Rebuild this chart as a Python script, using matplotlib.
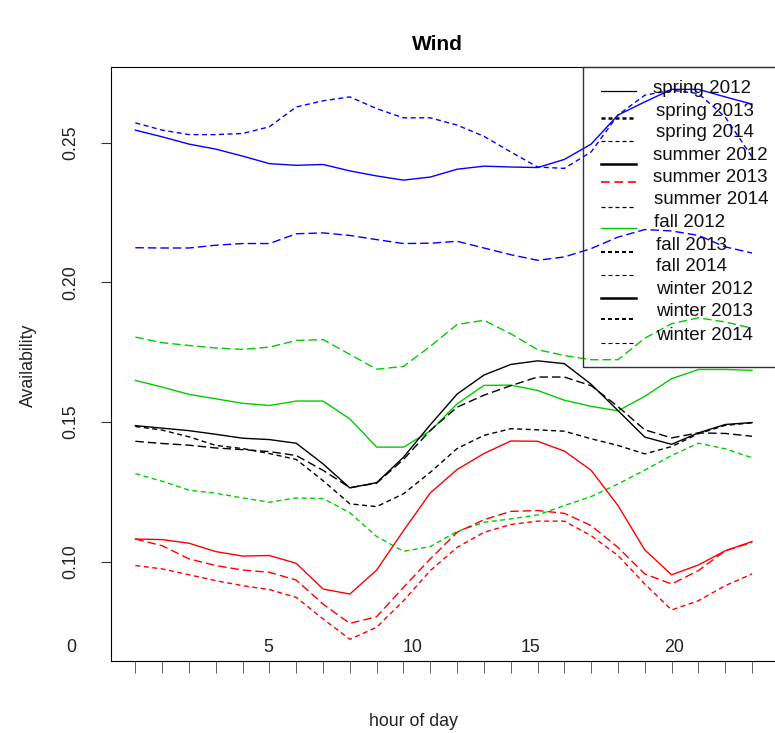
import matplotlib
matplotlib.use("Agg")
import matplotlib.pyplot as plt
from matplotlib.lines import Line2D
from matplotlib.patches import Rectangle
import matplotlib.transforms as mtrans

plt.rcParams['font.family'] = ['Liberation Sans', 'DejaVu Sans']

# ---------------- data ----------------
hours = list(range(24))

spring_2012 = [0.1487, 0.1478, 0.1469, 0.1456, 0.1442, 0.1437, 0.1424, 0.1350, 0.1264, 0.1283, 0.1374, 0.1490,
               0.1600, 0.1668, 0.1706, 0.1719, 0.1709, 0.1635, 0.1541, 0.1446, 0.1420, 0.1461, 0.1491, 0.1498]
spring_2013 = [0.1431, 0.1423, 0.1417, 0.1407, 0.1401, 0.1394, 0.1380, 0.1327, 0.1265, 0.1281, 0.1366, 0.1470,
               0.1553, 0.1596, 0.1630, 0.1661, 0.1661, 0.1630, 0.1555, 0.1472, 0.1443, 0.1461, 0.1459, 0.1449]
spring_2014 = [0.1484, 0.1471, 0.1447, 0.1416, 0.1405, 0.1387, 0.1366, 0.1290, 0.1207, 0.1197, 0.1243, 0.1320,
               0.1405, 0.1452, 0.1476, 0.1472, 0.1467, 0.1440, 0.1416, 0.1386, 0.1412, 0.1458, 0.1488, 0.1497]

summer_2012 = [0.1081, 0.1079, 0.1066, 0.1036, 0.1020, 0.1022, 0.0994, 0.0902, 0.0884, 0.0970, 0.1111, 0.1246,
               0.1330, 0.1387, 0.1432, 0.1431, 0.1396, 0.1327, 0.1201, 0.1042, 0.0953, 0.0988, 0.1039, 0.1072]
summer_2013 = [0.1081, 0.1057, 0.1010, 0.0986, 0.0970, 0.0962, 0.0934, 0.0848, 0.0779, 0.0803, 0.0908, 0.1010,
               0.1105, 0.1150, 0.1180, 0.1183, 0.1173, 0.1129, 0.1051, 0.0956, 0.0920, 0.0968, 0.1039, 0.1069]
summer_2014 = [0.0986, 0.0974, 0.0953, 0.0932, 0.0914, 0.0900, 0.0872, 0.0795, 0.0722, 0.0765, 0.0860, 0.0968,
               0.1051, 0.1105, 0.1133, 0.1145, 0.1145, 0.1093, 0.1022, 0.0920, 0.0827, 0.0860, 0.0914, 0.0956]

fall_2012 = [0.1649, 0.1625, 0.1599, 0.1583, 0.1567, 0.1559, 0.1575, 0.1575, 0.1511, 0.1410, 0.1410, 0.1468,
             0.1565, 0.1631, 0.1632, 0.1613, 0.1578, 0.1556, 0.1540, 0.1592, 0.1655, 0.1688, 0.1688, 0.1685]
fall_2013 = [0.1804, 0.1784, 0.1774, 0.1765, 0.1760, 0.1768, 0.1792, 0.1795, 0.1742, 0.1689, 0.1699, 0.1771,
             0.1849, 0.1864, 0.1816, 0.1759, 0.1738, 0.1723, 0.1723, 0.1800, 0.1852, 0.1873, 0.1858, 0.1836]
fall_2014 = [0.1315, 0.1288, 0.1256, 0.1245, 0.1228, 0.1213, 0.1228, 0.1226, 0.1175, 0.1090, 0.1037, 0.1054,
             0.1108, 0.1141, 0.1153, 0.1167, 0.1201, 0.1233, 0.1278, 0.1328, 0.1380, 0.1424, 0.1404, 0.1372]

winter_2012 = [0.2545, 0.2521, 0.2495, 0.2477, 0.2452, 0.2425, 0.2419, 0.2422, 0.2399, 0.2381, 0.2366, 0.2377,
               0.2405, 0.2416, 0.2413, 0.2411, 0.2440, 0.2495, 0.2599, 0.2646, 0.2691, 0.2691, 0.2664, 0.2638]
winter_2013 = [0.2124, 0.2123, 0.2123, 0.2133, 0.2139, 0.2139, 0.2174, 0.2177, 0.2168, 0.2153, 0.2139, 0.2140,
               0.2147, 0.2123, 0.2099, 0.2079, 0.2091, 0.2121, 0.2162, 0.2189, 0.2184, 0.2168, 0.2127, 0.2105]
winter_2014 = [0.2571, 0.2545, 0.2529, 0.2529, 0.2533, 0.2557, 0.2628, 0.2650, 0.2664, 0.2622, 0.2589, 0.2589,
               0.2563, 0.2523, 0.2467, 0.2413, 0.2408, 0.2467, 0.2599, 0.2670, 0.2688, 0.2676, 0.2592, 0.2449]

y_ticks = [0.10, 0.15, 0.20, 0.25]
y_tick_labels = ["0.10", "0.15", "0.20", "0.25"]
x_tick_labels = ["0", "5", "10", "15", "20"]

legend_labels = ["spring 2012", "spring 2013", "spring 2014",
                 "summer 2012", "summer 2013", "summer 2014",
                 "fall 2012", "fall 2013", "fall 2014",
                 "winter 2012", "winter 2013", "winter 2014"]

# ---------------- styles ----------------
W, H = 775, 733
fig = plt.figure(figsize=(W / 100, H / 100), dpi=100)

def fx(px):
    return px / W

def fy(py):
    return 1 - py / H

PX = 0.72  # points per pixel

def dash(on_px, off_px, lw):
    return (0, (on_px * PX / lw, off_px * PX / lw))

LW = 1.0
GREEN = "#00CD00"
LONG = dash(8.5, 4.0, LW)
SHORT = dash(5.0, 3.5, LW)

ax = fig.add_axes([fx(110.7), fy(661.0), (776.7 - 110.7) / W, (661.0 - 66.7) / H])

series = [
    (winter_2012, "blue", "-"), (winter_2014, "blue", SHORT), (winter_2013, "blue", LONG),
    (fall_2013, GREEN, LONG), (fall_2012, GREEN, "-"), (fall_2014, GREEN, SHORT),
    (spring_2012, "black", "-"), (spring_2013, "black", LONG), (spring_2014, "black", SHORT),
    (summer_2012, "red", "-"), (summer_2013, "red", LONG), (summer_2014, "red", SHORT),
]
for vals, col, ls in series:
    ax.plot(hours, vals, color=col, linestyle=ls, lw=LW)

ax.set_xlim(-0.92, 23.92)
ax.set_ylim(0.06443, 0.27721)

for s in ax.spines.values():
    s.set_linewidth(0.8)
    s.set_color("black")

ax.set_xticks(hours)
ax.set_xticklabels([])
ax.tick_params(axis="x", direction="out", length=12 * PX, width=0.6, color="#444444")
ax.set_yticks(y_ticks)
ax.set_yticklabels([])
ax.tick_params(axis="y", direction="out", length=10 * PX, width=0.8, color="#333333")

FS = 12.8
# y tick labels (rotated, R style)
ytrans = mtrans.blended_transform_factory(fig.transFigure, ax.transData)
for v, lab in zip(y_ticks, y_tick_labels):
    fig.text(fx(71), 0, lab, transform=ytrans, rotation=90, ha="center", va="center",
             fontsize=FS, color="#222222") if False else None
    t = ax.text(fx(71), v, lab, transform=ytrans, rotation=90, ha="center", va="center",
                fontsize=FS, color="#222222")
    t.set_position((fx(71), v))

# x labels at odd positions as in the reference
x_label_px = [71, 268, 413, 530, 674]
for px, lab in zip(x_label_px, x_tick_labels):
    fig.text(fx(px), fy(647), lab, ha="center", va="center", fontsize=FS, color="#222222")

fig.text(fx(413), fy(721), "hour of day", ha="center", va="center", fontsize=FS, color="#222222")
fig.text(fx(28), fy(365), "Availability", ha="center", va="center", rotation=90, fontsize=FS, color="#222222")
fig.text(fx(437), fy(45), "Wind", ha="center", va="center", fontsize=15, fontweight="bold")

# ---------------- legend (R-style, no fill) ----------------
fig.patches.append(Rectangle((fx(582.7), fy(366.5)), (800 - 582.7) / W, (366.5 - 66.7) / H,
                             transform=fig.transFigure, fill=False, edgecolor="#333333", lw=1.0))

leg_styles = [
    ("black", "-", 0.9), ("black", "short", 1.8), ("black", "short", 0.9),
    ("black", "-", 1.8), ("red", "long", 1.2), ("black", "short", 0.9),
    (GREEN, "-", 1.0), ("black", "short", 1.5), ("black", "short", 0.8),
    ("black", "-", 1.8), ("black", "short", 1.4), ("black", "short", 0.8),
]
leg_line_y = [90.7, 118.3, 141, 164, 182.3, 207.3, 227.7, 252.3, 275, 297.7, 319, 342.7]
leg_text_y = [88.3, 111.7, 132.7, 155, 177.7, 200, 222.7, 245, 266.7, 289.3, 311, 335]
leg_text_x = [653.3, 656, 656, 653.3, 652.7, 654, 654, 656, 656, 656, 656, 656]
for lab, (col, kind, lw), ly, ty, tx in zip(legend_labels, leg_styles, leg_line_y, leg_text_y, leg_text_x):
    if kind == "-":
        ls = "-"
    elif kind == "long":
        ls = dash(8.7, 4.7, lw)
    else:
        ls = dash(4.0, 3.0, lw)
    fig.lines.append(Line2D([fx(600.7), fx(636)], [fy(ly), fy(ly)], transform=fig.transFigure,
                            color=col, lw=lw, linestyle=ls))
    fig.text(fx(tx), fy(ty), lab, ha="left", va="center", fontsize=13.5, color="#111111")

fig.savefig("out.png", dpi=100)
